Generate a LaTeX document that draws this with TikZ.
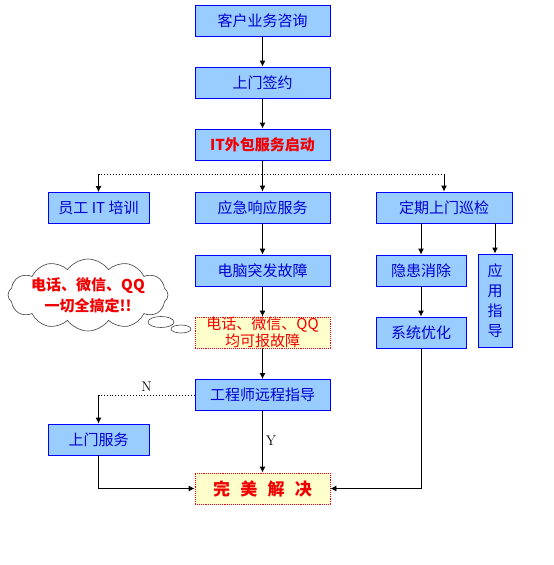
\documentclass[tikz,border=0pt]{standalone}
\usepackage{fontspec}
\usepackage{tikz}
\usetikzlibrary{arrows.meta,shapes.symbols}
\newfontfamily\cjk{Noto Sans CJK SC}
\definecolor{BoxBlue}{RGB}{153,204,255}
\definecolor{LineBlue}{RGB}{0,0,255}
\definecolor{TextBlue}{RGB}{0,0,210}
\definecolor{NoteYellow}{RGB}{255,255,204}
\definecolor{NoteRed}{RGB}{240,0,0}

\begin{document}
\begin{tikzpicture}[x=1pt, y=-1pt, >={Latex[length=6pt,width=6pt]}, line width=0.9pt,
    blk/.style={draw=LineBlue, fill=BoxBlue, text=TextBlue, minimum width=135pt, minimum height=31pt, inner sep=0pt, font=\cjk\fontsize{15}{16}\selectfont},
    hot/.style={blk, draw=NoteRed, densely dotted, fill=NoteYellow, text=NoteRed}]
    \useasboundingbox (0,0) rectangle (554,565);
    % Main column
    \node[blk] (ask) at (262.5,20.5) {客户业务咨询};
    \node[blk] (sign) at (262.5,82.5) {上门签约};
    \node[blk, text=NoteRed, font=\cjk\bfseries\fontsize{15}{16}\selectfont] (start) at (262.5,144.5) {IT外包服务启动};
    \node[blk] (urgent) at (262.5,207.5) {应急响应服务};
    \node[blk] (fault) at (262.5,270.5) {电脑突发故障};
    \node[hot, align=center, font=\cjk\fontsize{15}{14.5}\selectfont] (report) at (262.5,332.5) {电话、微信、QQ\\均可报故障};
    \node[blk] (remote) at (262.5,395) {工程师远程指导};
    \node[hot, font=\cjk\bfseries\fontsize{17}{18}\selectfont] (done) at (262.5,488.5) {完\hspace{0.6em}美\hspace{0.6em}解\hspace{0.6em}决};
    % Left column
    \node[blk, minimum width=101pt] (train) at (98.5,208) {员工 IT 培训};
    \node[blk, minimum width=101pt] (visit) at (98.5,439.5) {上门服务};
    % Right column
    \node[blk, minimum width=136pt] (patrol) at (444,207.5) {定期上门巡检};
    \node[blk, minimum width=90pt] (hidden) at (421,270.5) {隐患消除};
    \node[blk, minimum width=90pt] (tune) at (421,332.5) {系统优化};
    \node[blk, minimum width=34pt, minimum height=93pt, align=center, font=\cjk\fontsize{15}{20}\selectfont] (guide) at (495,300.5) {应\\用\\指\\导};
    % Cloud
    \node[cloud, cloud puffs=12, cloud puff arc=110, cloud ignores aspect, draw=black!75, line width=0.6pt, fill=white, minimum width=160pt, minimum height=72pt, inner sep=0pt] (puff) at (88,295) {};
    \node[text=NoteRed, align=center, font=\cjk\bfseries\fontsize{15}{21}\selectfont] (chat) at (puff) {电话、微信、QQ\\一切全搞定!!};
    \draw[black!75, line width=0.6pt, fill=white] (161,322) ellipse (13pt and 5.5pt);
    \draw[black!75, line width=0.6pt, fill=white] (181,329) ellipse (10pt and 4pt);
    % Fork coordinates
    \coordinate (fork) at (262.5,174);
    \coordinate (forkL) at (98.5,174);
    \coordinate (forkR) at (444,174);
    \coordinate (nturn) at (98.5,395);
    % Connectors
    \draw[->] (ask) -- (sign);
    \draw[->] (sign) -- (start);
    \draw (start) -- (fork);
    \draw[dotted] (forkL) -- (forkR);
    \draw[->] (forkL) -- (train);
    \draw[->] (fork) -- (urgent);
    \draw[->] (forkR) -- (patrol);
    \draw[->] (urgent) -- (fault);
    \draw[->] (fault) -- (report);
    \draw[->] (report) -- (remote);
    \draw[->] (hidden |- patrol.south) -- (hidden);
    \draw[->] (guide |- patrol.south) -- (guide);
    \draw[->] (hidden) -- (tune);
    \draw[dotted] (remote.west) -- node[above, pos=0.5, inner sep=3pt, font=\fontsize{14}{16}\selectfont]{N} (nturn);
    \draw[->] (nturn) -- (visit);
    \draw[->] (remote) -- node[right, pos=0.48, inner sep=3pt, font=\fontsize{14}{16}\selectfont]{Y} (done);
    \draw[->] (visit) |- (done);
    \draw[->] (tune) |- (done);
\end{tikzpicture}
\end{document}
